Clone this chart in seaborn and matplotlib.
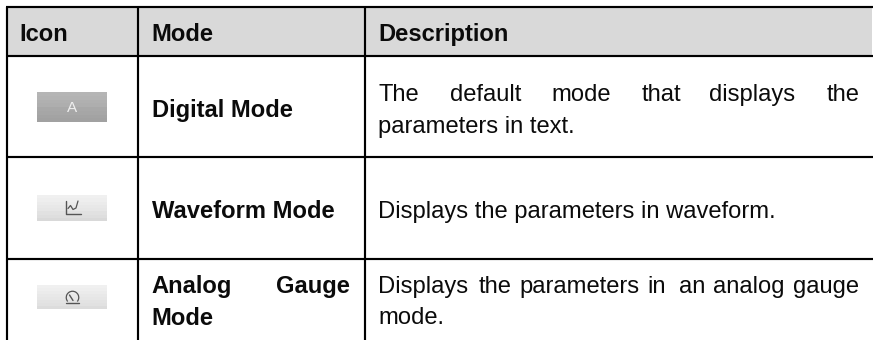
import matplotlib
matplotlib.use("Agg")
import matplotlib.pyplot as plt
from matplotlib.patches import Arc
import numpy as np
import seaborn as sns

# ---- content ----
headers = ["Icon", "Mode", "Description"]
mode_lines = [["Digital Mode"], ["Waveform Mode"], ["Analog Gauge", "Mode"]]
desc_row1_words = ["The", "default", "mode", "that", "displays", "the"]
desc_row1_tail = "parameters in text."
desc_row2 = "Displays the parameters in waveform."
desc_row3_words = ["Displays", "the", "parameters", "in", "an", "analog", "gauge"]
desc_row3_tail = "mode."
analog_words = ["Analog", "Gauge"]
icon_shades = [
    [0.71, 0.70, 0.69, 0.68, 0.66, 0.65, 0.64, 0.63],
    [0.94, 0.93, 0.92, 0.91, 0.90, 0.88, 0.87, 0.85],
    [0.94, 0.93, 0.92, 0.91, 0.90, 0.89, 0.88, 0.86],
]

# ---- layout (pixels of the 873x340 picture) ----
W, H = 873, 340
col_x = [6.5, 137.7, 365.3]
row_y = [7, 56, 157.3, 258.8]
header_base = 41
text_x = [19.5, 151.5, 378]
icon_box = [(37, 107, 92, 122), (37, 107, 195, 221), (37, 107, 285, 309)]
word_x1 = [378.3, 450, 551, 641.5, 709.5, 826.7]
word_x3 = [378.3, 478.5, 519.5, 647, 678.7, 713, 793]
analog_x = [151.5, 276]
RULE = "#000000"
sns.set_theme(style="white", rc={"axes.facecolor": "white", "figure.facecolor": "white"})
plt.rcParams["font.family"] = ["Liberation Sans", "DejaVu Sans"]
FS = 17.15
INK = "#0b0b0b"

fig = plt.figure(figsize=(W / 100, H / 100), dpi=100)
ax = fig.add_axes([0, 0, 1, 1])
ax.set_xlim(0, W)
ax.set_ylim(H, 0)
ax.axis("off")

ax.fill_between([col_x[0], W - 1], row_y[0], row_y[1], color="#d9d9d9", lw=0, zorder=1)

ax.hlines(row_y, col_x[0] - 1, W, color=RULE, lw=1.55, zorder=3)
ax.vlines(col_x, row_y[0], H, color=RULE, lw=1.55, zorder=3)

for x, t in zip(text_x, headers):
    ax.text(x, header_base, t, fontsize=FS, fontweight="bold", color=INK, va="baseline", zorder=4)

# mode column
ax.text(text_x[1], 116.5, mode_lines[0][0], fontsize=FS, fontweight="bold", color=INK, va="baseline", zorder=4)
ax.text(text_x[1], 218, mode_lines[1][0], fontsize=FS, fontweight="bold", color=INK, va="baseline", zorder=4)
for x, t in zip(analog_x, analog_words):
    ax.text(x, 292.7, t, fontsize=FS, fontweight="bold", color=INK, va="baseline", zorder=4)
ax.text(text_x[1], 325, mode_lines[2][1], fontsize=FS, fontweight="bold", color=INK, va="baseline", zorder=4)

# description column
for x, t in zip(word_x1, desc_row1_words):
    ax.text(x, 100.7, t, fontsize=FS, color=INK, va="baseline", zorder=4)
ax.text(text_x[2], 132.7, desc_row1_tail, fontsize=FS, color=INK, va="baseline", zorder=4)
ax.text(text_x[2], 218.2, desc_row2, fontsize=FS, color=INK, va="baseline", zorder=4)
for x, t in zip(word_x3, desc_row3_words):
    ax.text(x, 292.7, t, fontsize=FS, color=INK, va="baseline", zorder=4)
ax.text(text_x[2], 324.5, desc_row3_tail, fontsize=FS, color=INK, va="baseline", zorder=4)

# icon buttons: vertical gray ramps through seaborn heatmaps
for (x0, x1, y0, y1), shades in zip(icon_box, icon_shades):
    sub = ax.inset_axes([x0 / W, 1 - y1 / H, (x1 - x0) / W, (y1 - y0) / H], zorder=2)
    sns.heatmap(np.array(shades).reshape(-1, 1), ax=sub, cmap="gray", vmin=0, vmax=1,
                cbar=False, xticklabels=False, yticklabels=False)
    sub.set_axis_off()

ax.text(72.3, 107.6, "A", fontsize=11, color="#efefef", ha="center", va="center", zorder=6)

# waveform glyph
G = "#555555"
ax.plot([66, 66, 81], [200.5, 213.5, 213.5], color=G, lw=1.0, zorder=6)
ax.plot([68, 70.5, 73, 76, 78], [208.5, 205.5, 209.5, 208, 201], color=G, lw=0.9, zorder=6)

# gauge glyph
ax.add_patch(Arc((72.5, 297.5), 12.5, 12.5, theta1=140, theta2=40, color=G, lw=0.9, zorder=6))
ax.plot([66, 79], [303, 303], color=G, lw=1.0, zorder=6)
ax.plot([69.5, 73], [295, 300.5], color=G, lw=1.0, zorder=6)

fig.savefig("out.png", dpi=100, facecolor="white")
